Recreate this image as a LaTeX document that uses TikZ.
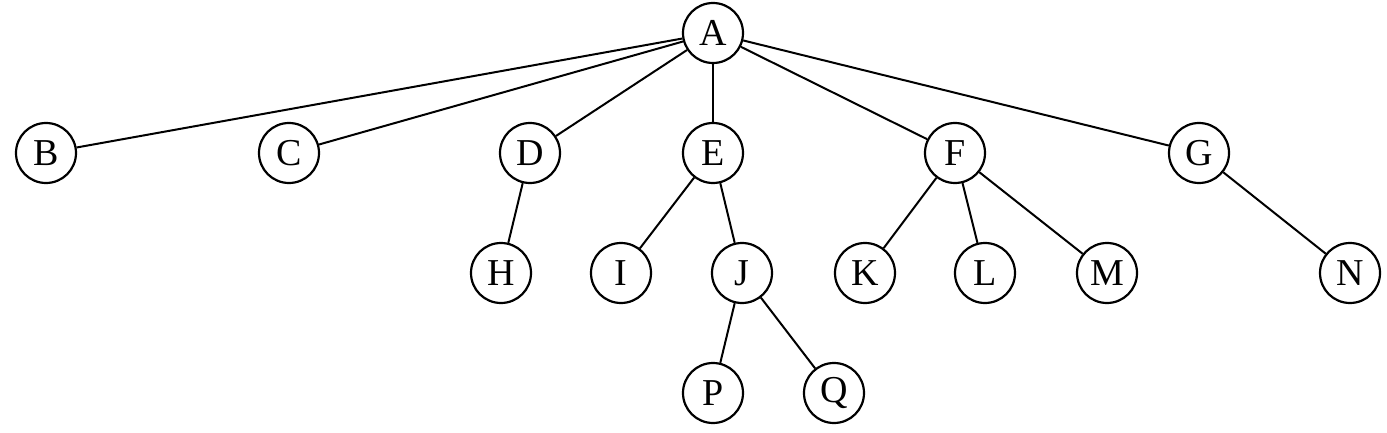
\documentclass[tikz,border=0pt]{standalone}
\usepackage{fontspec}
\setmainfont{Liberation Serif}

\begin{document}
\begin{tikzpicture}[
      x=0.5pt, y=-0.5pt,
      vertex/.style={circle,draw=black,line width=1.1pt,minimum size=30pt,inner sep=0pt,font=\fontsize{19}{21}\selectfont},
      edge/.style={line width=1pt,draw=black}
    ]
    \useasboundingbox (0, 0) rectangle (1387, 433);

    \node[vertex] (A) at (713, 33) {A};

    \node[vertex] (B) at (46, 153) {B};
    \node[vertex] (C) at (289, 153) {C};
    \node[vertex] (D) at (530, 153) {D};
    \node[vertex] (E) at (713, 153) {E};
    \node[vertex] (F) at (955, 153) {F};
    \node[vertex] (G) at (1199, 153) {G};

    \node[vertex] (H) at (501, 273) {H};
    \node[vertex] (I) at (621, 273) {I};
    \node[vertex] (J) at (742, 273) {J};
    \node[vertex] (K) at (865, 273) {K};
    \node[vertex] (L) at (985, 273) {L};
    \node[vertex] (M) at (1107, 273) {M};
    \node[vertex] (N) at (1350, 273) {N};

    \node[vertex] (P) at (713, 393) {P};
    \node[vertex] (Q) at (834, 393) {Q};

    \foreach \a/\b in {A/B,A/C,A/D,A/E,A/F,A/G,D/H,E/I,E/J,F/K,F/L,F/M,G/N,J/P,J/Q}{
      \draw[edge] (\a) -- (\b);
    }
  \end{tikzpicture}
\end{document}
